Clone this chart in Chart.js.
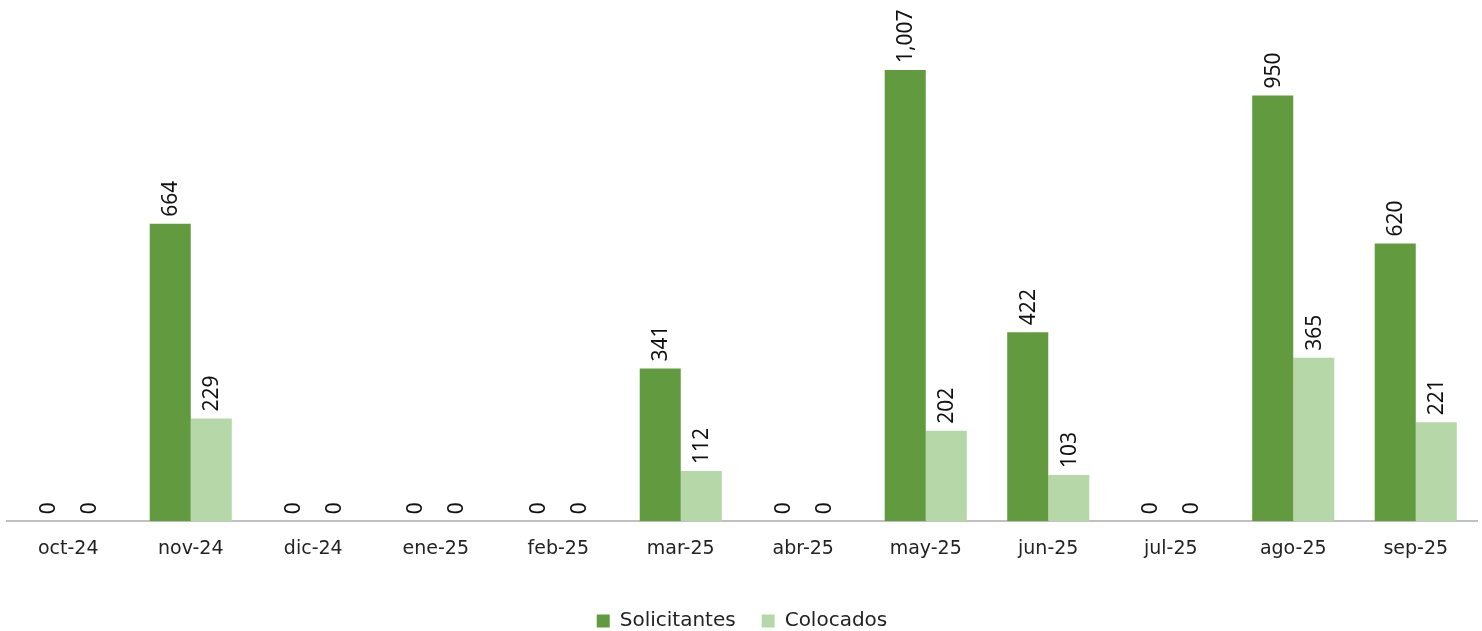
<!DOCTYPE html>
<html>
<head>
<meta charset="utf-8">
<script src="https://cdn.jsdelivr.net/npm/chart.js@4"></script>
<style>
  html, body { margin: 0; padding: 0; background: #fff; }
  #wrap { width: 1482px; height: 631px; }
</style>
</head>
<body>
<div id="wrap"><canvas id="myChart"></canvas></div>
<script>
const months = ['oct-24', 'nov-24', 'dic-24', 'ene-25', 'feb-25', 'mar-25', 'abr-25', 'may-25', 'jun-25', 'jul-25', 'ago-25', 'sep-25']
const solicitantes = [0, 664, 0, 0, 0, 341, 0, 1007, 422, 0, 950, 620]
const colocados = [0, 229, 0, 0, 0, 112, 0, 202, 103, 0, 365, 221]

// draws the value above each bar, turned 90 degrees
const valueLabels = {
    id: 'valueLabels',
    afterDatasetsDraw(chart) {
        const ctx = chart.ctx
        ctx.save()
        ctx.font = '21px "Noto Sans"'
        ctx.fillStyle = '#111'
        ctx.textAlign = 'left'
        ctx.textBaseline = 'middle'
        chart.data.datasets.forEach((ds, i) => {
            chart.getDatasetMeta(i).data.forEach((bar, j) => {
                ctx.save()
                ctx.translate(bar.x + 1, bar.y - 7)
                ctx.rotate(-Math.PI / 2)
                ctx.fillText(ds.data[j].toLocaleString('en-US'), 0, 0)
                ctx.restore()
            })
        })
        ctx.restore()
    }
}

var ctx = document.getElementById('myChart').getContext('2d');
var myChart = new Chart(ctx, {
    type: 'bar',
    data: {
        labels: months,
        datasets: [{
            label: 'Solicitantes',
            data: solicitantes,
            backgroundColor: '#629b3f'
        }, {
            label: 'Colocados',
            data: colocados,
            backgroundColor: '#b6d7a8'
        }]
    },
    options: {
        responsive: true,
        maintainAspectRatio: false,
        animation: false,
        layout: { padding: { top: 6, left: 7, right: 5, bottom: -10 } },
        datasets: {
            bar: { barPercentage: 1, categoryPercentage: 0.67 }
        },
        plugins: {
            legend: {
                position: 'bottom',
                labels: {
                    boxWidth: 13,
                    boxHeight: 13,
                    padding: 26,
                    color: '#222',
                    font: { family: 'DejaVu Sans', size: 20 }
                }
            },
            tooltip: { enabled: false }
        },
        scales: {
            x: {
                grid: { display: false },
                border: { color: '#c0c0c0', width: 2 },
                ticks: {
                    color: '#222',
                    padding: 8,
                    font: { family: 'DejaVu Sans', size: 19 }
                },
                // extra room between the month labels and the legend
                afterFit: (scale) => { scale.height += 17 }
            },
            y: {
                display: false,
                min: 0,
                max: 1150
            }
        }
    },
    plugins: [valueLabels]
});
</script>
</body>
</html>
